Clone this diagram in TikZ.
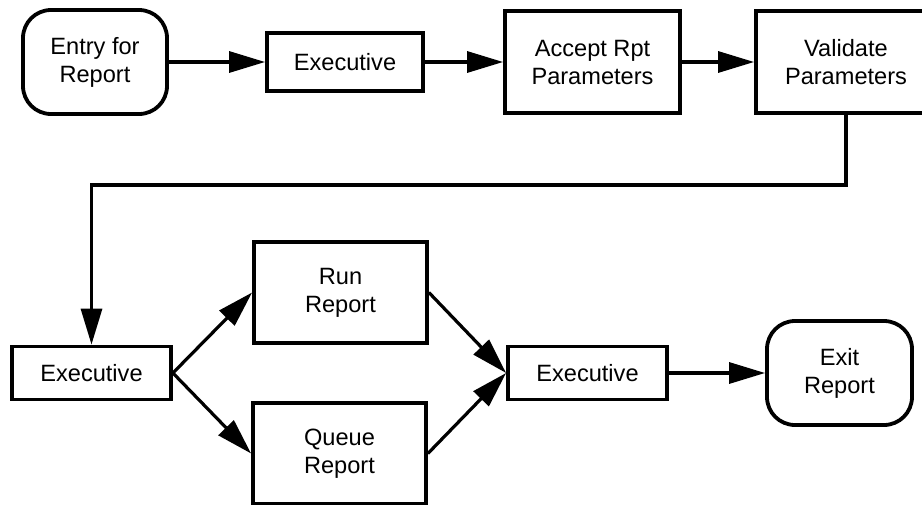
\documentclass[tikz,border=0pt]{standalone}
\usepackage{fontspec}
\setmainfont{Liberation Sans}
\usetikzlibrary{arrows.meta}

\begin{document}
\begin{tikzpicture}[
	x=0.5pt, y=-0.5pt, % one unit = one pixel of the scan, y going down
	>={Triangle[length=18pt,width=10.5pt]}, % big filled arrowheads
	line width=1.6pt,
	font=\fontsize{11.8}{14}\selectfont,
	box/.style={draw, line width=1.9pt, align=center, inner sep=0pt},
	term/.style={box, rounded corners=14pt}, % entry and exit points
	-> % use arrows
]
\useasboundingbox (0,0) rectangle (922,504);

\node[term, minimum width=72pt, minimum height=52pt](entry) at (95,62) {Entry for\\Report};
\node[box, minimum width=78pt, minimum height=29pt](execA) at (345,62) {Executive};
\node[box, minimum width=87.5pt, minimum height=51pt](accept) at (592.5,62) {Accept Rpt\\Parameters};
\node[box, minimum width=90pt, minimum height=51pt](validate) at (846,62) {Validate\\Parameters};

\node[box, minimum width=79.5pt, minimum height=26.5pt](execB) at (91.5,373) {Executive};
\node[box, minimum width=86.5pt, minimum height=50.5pt](run) at (340.5,292.5) {Run\\Report};
\node[box, minimum width=86.5pt, minimum height=50.5pt](queue) at (339.5,453.5) {Queue\\Report};
\node[box, minimum width=79.5pt, minimum height=26.5pt](execC) at (587.5,373) {Executive};
\node[term, minimum width=72.5pt, minimum height=52pt](exit) at (839.5,373) {Exit\\Report};

\coordinate (turn) at (846,185);

\path
(entry) edge (execA)
(execA) edge (accept)
(accept) edge (validate)
(execB.east) edge (run.west)
(execB.east) edge (queue.west)
(run.east) edge (execC.west)
(queue.east) edge (execC.west)
(execC) edge (exit)
;
\draw (validate.south) -- (turn) -| (execB.north);
\end{tikzpicture}
\end{document}
